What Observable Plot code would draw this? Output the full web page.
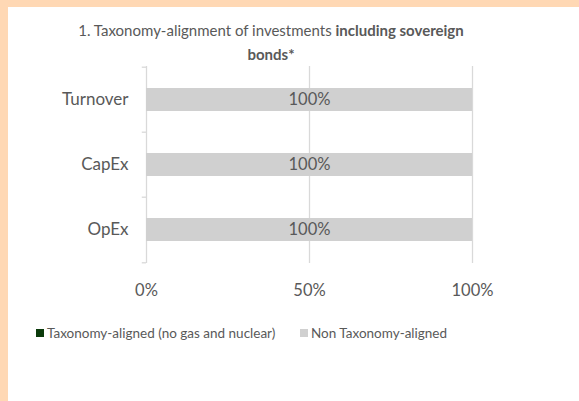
<!DOCTYPE html>
<html><head><meta charset="utf-8">
<script src="https://cdn.jsdelivr.net/npm/d3@7"></script>
<script src="https://cdn.jsdelivr.net/npm/@observablehq/plot@0.6"></script>
<style>
html,body{margin:0;padding:0;width:579px;height:401px;overflow:hidden;background:#ffd8b4;font-family:Lato,"Open Sans",sans-serif;}
#card{position:absolute;left:8px;top:7px;width:571px;height:394px;background:#fff;}
#title{position:absolute;left:21px;top:18px;width:500px;text-align:center;font-size:15px;line-height:24px;color:#595959;}
#chart{position:absolute;left:0;top:56px;}
#legend{position:absolute;left:0;top:325px;font-size:13.5px;color:#595959;}
.item{position:absolute;white-space:nowrap;display:flex;align-items:center;}
.sw{display:inline-block;width:8px;height:8px;margin-right:3px;}
</style>
</head><body>
<div id="card"></div>
<div id="title">1. Taxonomy-alignment of investments <b>including sovereign</b><br><b>bonds*</b></div>
<div id="chart"></div>
<div id="legend"></div>
<script>
const categories = ["Turnover", "CapEx", "OpEx"];
const aligned = [0, 0, 0];
const nonAligned = [100, 100, 100];
const valueLabels = ["100%", "100%", "100%"];
const series = ["Taxonomy-aligned (no gas and nuclear)", "Non Taxonomy-aligned"];
const seriesColors = ["#0b3a0b", "#d0d0d0"];
const xTicks = [0, 50, 100];

const data = categories.flatMap((c, i) => [
  {category: c, series: series[0], value: aligned[i]},
  {category: c, series: series[1], value: nonAligned[i]}
]);

const txt = "#595959";
const plot = Plot.plot({
  width: 579,
  height: 247,
  marginLeft: 146,
  marginRight: 107,
  marginTop: 10,
  marginBottom: 40,
  style: {color: txt, fontFamily: "Lato, 'Open Sans', sans-serif", background: "transparent"},
  x: {domain: [0, 100]},
  y: {domain: categories, paddingInner: 0.65, paddingOuter: 0.325},
  color: {domain: series, range: seriesColors},
  marks: [
    Plot.ruleX(xTicks, {stroke: "#d9d9d9", strokeWidth: 1.3}),
    Plot.ruleY(categories, {y: d => d, x1: -1.3, x2: 0, dy: -32.8, stroke: "#d9d9d9", strokeWidth: 1.3}),
    Plot.ruleY(categories.slice(-1), {y: d => d, x1: -1.3, x2: 0, dy: 32.8, stroke: "#d9d9d9", strokeWidth: 1.3}),
    Plot.barX(data, Plot.stackX({y: "category", x: "value", fill: "series", order: series})),
    Plot.text(categories, {y: d => d, x: (d, i) => aligned[i] + nonAligned[i] / 2, text: (d, i) => valueLabels[i], fontSize: 16.5, fill: txt}),
    Plot.axisY({tickSize: 0, tickPadding: 18, fontSize: 17, label: null}),
    Plot.axisX(xTicks, {anchor: "bottom", tickSize: 0, tickPadding: 21, fontSize: 16.5, tickFormat: d => d + "%", label: null})
  ]
});
document.getElementById("chart").appendChild(plot);

const legendPos = [36, 300];
const lg = document.getElementById("legend");
series.forEach((s, i) => {
  const it = document.createElement("div");
  it.className = "item";
  it.style.left = legendPos[i] + "px";
  it.innerHTML = `<span class="sw" style="background:${seriesColors[i]}"></span>${s}`;
  lg.appendChild(it);
});
</script>
</body></html>
